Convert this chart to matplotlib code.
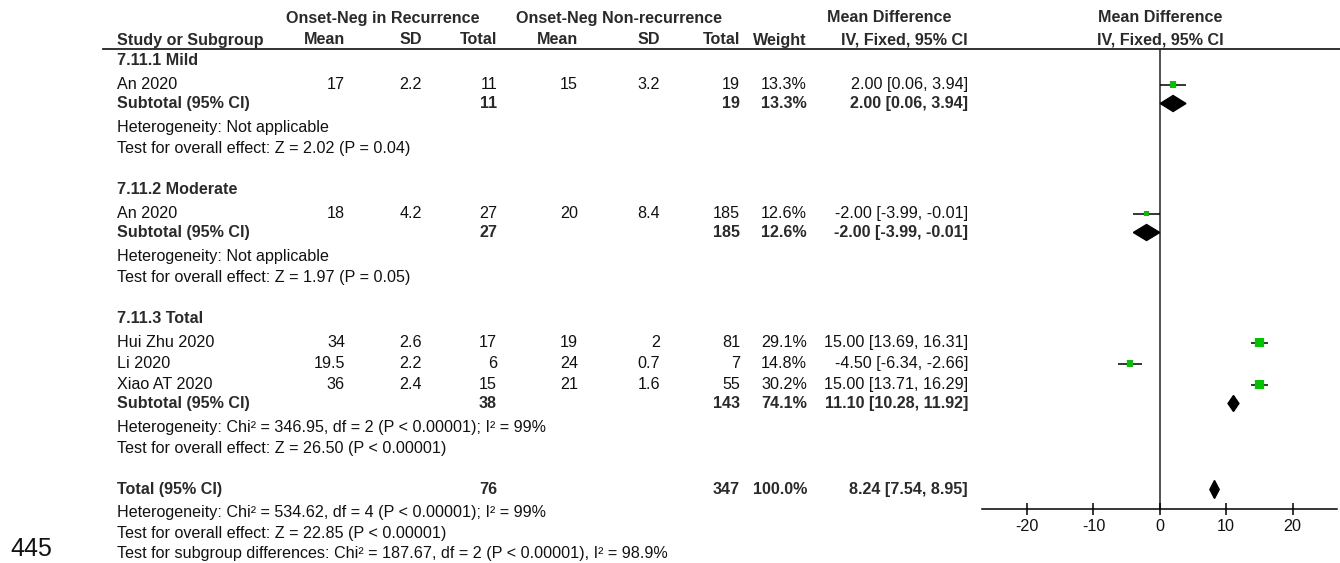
import numpy as np
import matplotlib
matplotlib.use("Agg")
import matplotlib.pyplot as plt

plt.rcParams['font.family'] = ['Liberation Sans', 'DejaVu Sans']

# ---- study level data ----
subgroups = ["7.11.1 Mild", "7.11.2 Moderate", "7.11.3 Total"]
study_group = [0, 1, 2, 2, 2]
studies = ["An 2020", "An 2020", "Hui Zhu 2020", "Li 2020", "Xiao AT 2020"]
mean_rec = [17, 18, 34, 19.5, 36]
sd_rec = [2.2, 4.2, 2.6, 2.2, 2.4]
n_rec = [11, 27, 17, 6, 15]
mean_non = [15, 20, 19, 24, 21]
sd_non = [3.2, 8.4, 2, 0.7, 1.6]
n_non = [19, 185, 81, 7, 55]
weight = [13.3, 12.6, 29.1, 14.8, 30.2]
md = [2.00, -2.00, 15.00, -4.50, 15.00]
md_lo = [0.06, -3.99, 13.69, -6.34, 13.71]
md_hi = [3.94, -0.01, 16.31, -2.66, 16.29]

# ---- subgroup pooled results ----
sub_n_rec = [11, 27, 38]
sub_n_non = [19, 185, 143]
sub_weight = [13.3, 12.6, 74.1]
sub_md = [2.00, -2.00, 11.10]
sub_lo = [0.06, -3.99, 10.28]
sub_hi = [3.94, -0.01, 11.92]
sub_het = ["Heterogeneity: Not applicable",
           "Heterogeneity: Not applicable",
           "Heterogeneity: Chi² = 346.95, df = 2 (P < 0.00001); I² = 99%"]
sub_test = ["Test for overall effect: Z = 2.02 (P = 0.04)",
            "Test for overall effect: Z = 1.97 (P = 0.05)",
            "Test for overall effect: Z = 26.50 (P < 0.00001)"]

# ---- overall ----
tot_n_rec = 76
tot_n_non = 347
tot_weight = 100.0
tot_md, tot_lo, tot_hi = 8.24, 7.54, 8.95
tot_het = "Heterogeneity: Chi² = 534.62, df = 4 (P < 0.00001); I² = 99%"
tot_test = "Test for overall effect: Z = 22.85 (P < 0.00001)"
tot_sub = "Test for subgroup differences: Chi² = 187.67, df = 2 (P < 0.00001), I² = 98.9%"

axis_ticks = [-20, -10, 0, 10, 20]

W, H = 1340, 563
FS = 11.6
TXT = '#111111'
BOLD = '#2a2a2a'
GREEN = '#00c400'

# column right edges (pixels)
X_LABEL = 117
X_M1, X_S1, X_N1 = 345, 422, 497
X_M2, X_S2, X_N2 = 578, 660, 740
X_W, X_CI = 807, 968
AX_L, AX_R = 982, 1337
Y_TOP, Y_AXIS = 49, 509

fig = plt.figure(figsize=(W / 100, H / 100), dpi=100)
fig.patch.set_facecolor('white')

tx = fig.add_axes([0, 0, 1, 1])
tx.set_xlim(0, W)
tx.set_ylim(H, 0)
tx.axis('off')

fa = fig.add_axes([AX_L / W, 1 - Y_AXIS / H, (AX_R - AX_L) / W, (Y_AXIS - Y_TOP) / H])
fa.set_facecolor('none')
fa.set_xlim(-26.8, 26.7)
fa.set_ylim(Y_AXIS, Y_TOP)
for s in ['top', 'left', 'right']:
    fa.spines[s].set_visible(False)
fa.spines['bottom'].set_linewidth(1.1)
fa.set_yticks([])
fa.set_xticks(axis_ticks)
fa.set_xticklabels([str(t) for t in axis_ticks])
fa.tick_params(axis='x', direction='inout', length=8, width=1.1, labelsize=FS,
               labelcolor=TXT, pad=3)
fa.axvline(0, color='#222222', lw=1.1, zorder=1)


def put(x, y, s, ha='right', bold=False, **kw):
    tx.text(x, y, s, ha=ha, va='center', fontsize=FS,
            fontweight='bold' if bold else 'normal',
            color=BOLD if bold else TXT, **kw)


def fmt(v):
    return f"{v:g}"


def ci_text(m, lo, hi):
    return f"{m:.2f} [{lo:.2f}, {hi:.2f}]"


def diamond(y, m, lo, hi, half=8):
    fa.fill([lo, m, hi, m], [y, y - half, y, y + half], color='black', zorder=3)


# ---- header ----
put(383, 18, "Onset-Neg in Recurrence", ha='center', bold=True)
put(619, 18, "Onset-Neg Non-recurrence", ha='center', bold=True)
put(889, 18, "Mean Difference", ha='center', bold=True)
fa.text(0, 18, "Mean Difference", ha='center', va='center', fontsize=FS,
        fontweight='bold', color=BOLD)
fa.text(0, 40, "IV, Fixed, 95% CI", ha='center', va='center', fontsize=FS,
        fontweight='bold', color=BOLD)
put(X_LABEL, 40, "Study or Subgroup", ha='left', bold=True)
for x, lab in [(X_M1, "Mean"), (X_S1, "SD"), (X_N1, "Total"),
               (X_M2, "Mean"), (X_S2, "SD"), (X_N2, "Total"),
               (X_W, "Weight"), (X_CI, "IV, Fixed, 95% CI")]:
    put(x, 40, lab, bold=True)
tx.plot([103, W], [Y_TOP, Y_TOP], color='#222222', lw=1.3)

# ---- body ----
y = 60.5
for g, name in enumerate(subgroups):
    put(X_LABEL, y, name, ha='left', bold=True)
    y += 24
    idx = [i for i, sg in enumerate(study_group) if sg == g]
    for k, i in enumerate(idx):
        put(X_LABEL, y, studies[i], ha='left')
        put(X_M1, y, fmt(mean_rec[i]))
        put(X_S1, y, fmt(sd_rec[i]))
        put(X_N1, y, str(n_rec[i]))
        put(X_M2, y, fmt(mean_non[i]))
        put(X_S2, y, fmt(sd_non[i]))
        put(X_N2, y, str(n_non[i]))
        put(X_W, y, f"{weight[i]:.1f}%")
        put(X_CI, y, ci_text(md[i], md_lo[i], md_hi[i]))
        fa.hlines(y, md_lo[i], md_hi[i], color='black', lw=1.1, zorder=2)
        side = 1.65 * np.sqrt(weight[i]) * 0.72
        fa.scatter([md[i]], [y], marker='s', s=side ** 2, color=GREEN,
                   edgecolors='none', zorder=3)
        y += 21 if k < len(idx) - 1 else 19
    put(X_LABEL, y, "Subtotal (95% CI)", ha='left', bold=True)
    put(X_N1, y, str(sub_n_rec[g]), bold=True)
    put(X_N2, y, str(sub_n_non[g]), bold=True)
    put(X_W, y, f"{sub_weight[g]:.1f}%", bold=True)
    put(X_CI, y, ci_text(sub_md[g], sub_lo[g], sub_hi[g]), bold=True)
    diamond(y, sub_md[g], sub_lo[g], sub_hi[g])
    y += 24
    put(X_LABEL, y, sub_het[g], ha='left')
    y += 21
    put(X_LABEL, y, sub_test[g], ha='left')
    y += 41

put(X_LABEL, y, "Total (95% CI)", ha='left', bold=True)
put(X_N1, y, str(tot_n_rec), bold=True)
put(X_N2, y, str(tot_n_non), bold=True)
put(X_W, y, f"{tot_weight:.1f}%", bold=True)
put(X_CI, y, ci_text(tot_md, tot_lo, tot_hi), bold=True)
diamond(y, tot_md, tot_lo, tot_hi, half=9)
y += 23
put(X_LABEL, y, tot_het, ha='left')
y += 21
put(X_LABEL, y, tot_test, ha='left')
y += 20
put(X_LABEL, y, tot_sub, ha='left')

tx.text(10, 549, "445", ha='left', va='center', fontsize=18, color=TXT)

fig.savefig("out.png", dpi=100, facecolor='white')
